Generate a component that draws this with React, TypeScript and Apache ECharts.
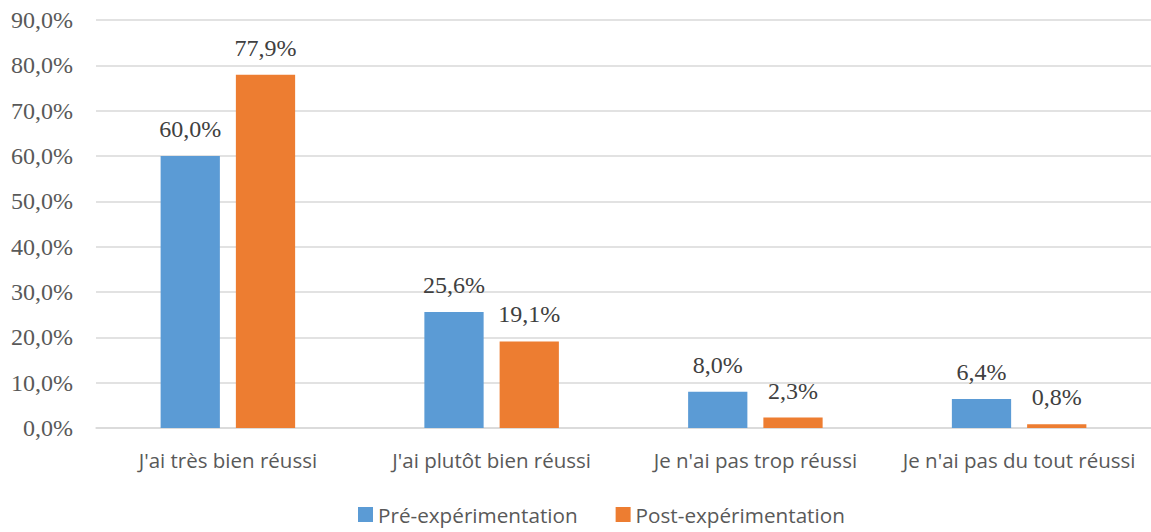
import React, { useEffect, useRef } from "react";
import * as echarts from "echarts";

const categories = [
  "J'ai très bien réussi",
  "J'ai plutôt bien réussi",
  "Je n'ai pas trop réussi",
  "Je n'ai pas du tout réussi",
];
const preValues = [60.0, 25.6, 8.0, 6.4];
const postValues = [77.9, 19.1, 2.3, 0.8];
const seriesNames = ["Pré-expérimentation", "Post-expérimentation"];

const fmt = (v: number) => v.toFixed(1).replace(".", ",") + "%";

export default function App() {
  const ref = useRef<HTMLDivElement>(null);
  useEffect(() => {
    document.body.style.margin = "0";
    const chart = echarts.init(ref.current!, null, { renderer: "svg" });
    const label = {
      show: true,
      position: "top" as const,
      distance: 15,
      formatter: (p: any) => fmt(p.value),
      fontFamily: "Liberation Serif",
      fontSize: 24,
      color: "#404040",
    };
    chart.setOption({
      animation: false,
      backgroundColor: "#ffffff",
      grid: { left: 96, right: -2, top: 20, bottom: 104 },
      legend: {
        bottom: 2,
        left: 353,
        itemWidth: 15,
        itemHeight: 15,
        itemGap: 38,
        icon: "rect",
        textStyle: { fontFamily: "Open Sans", fontSize: 20.7, color: "#595959" },
        data: seriesNames,
      },
      xAxis: {
        type: "category",
        data: categories,
        axisLine: { show: true, lineStyle: { color: "#d9d9d9", width: 1.5 } },
        axisTick: { show: false },
        axisLabel: {
          interval: 0,
          margin: 21,
          fontFamily: "Open Sans",
          fontSize: 20.5,
          color: "#595959",
        },
      },
      yAxis: {
        type: "value",
        min: 0,
        max: 90,
        interval: 10,
        axisLine: { show: false },
        axisTick: { show: false },
        splitLine: { lineStyle: { color: "#d9d9d9", width: 1.5 } },
        axisLabel: {
          margin: 23,
          formatter: (v: number) => fmt(v),
          fontFamily: "Liberation Serif",
          fontSize: 24,
          color: "#595959",
        },
      },
      series: [
        {
          name: seriesNames[0],
          type: "bar",
          data: preValues,
          itemStyle: { color: "#5B9BD5" },
          barGap: "27%",
          barCategoryGap: "49%",
          label,
        },
        {
          name: seriesNames[1],
          type: "bar",
          data: postValues,
          itemStyle: { color: "#ED7D31" },
          barGap: "27%",
          barCategoryGap: "49%",
          label,
        },
      ],
    });
    return () => chart.dispose();
  }, []);
  return <div ref={ref} style={{ width: 1151, height: 532 }} />;
}
